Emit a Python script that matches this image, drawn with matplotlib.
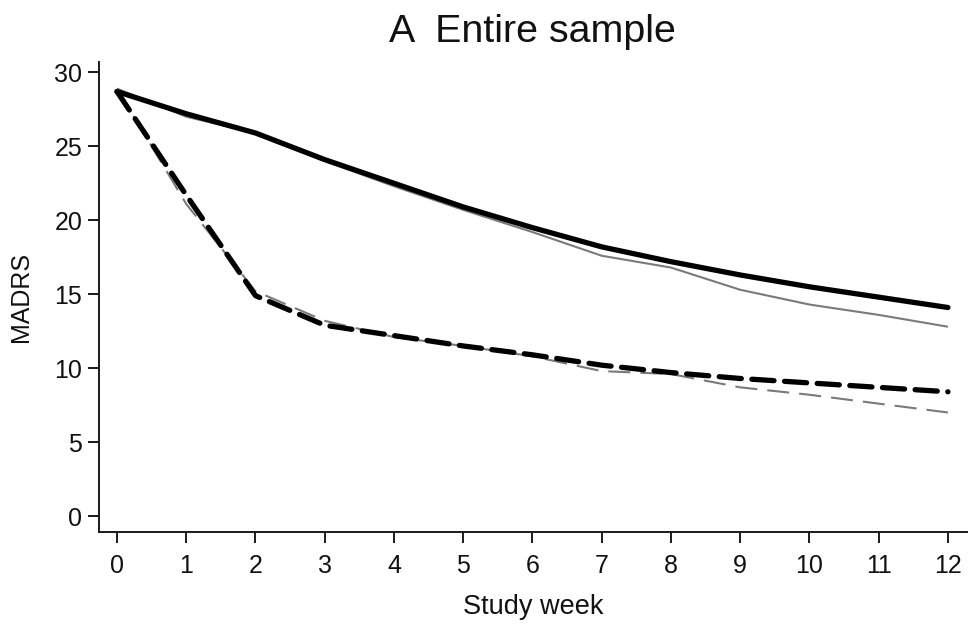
import matplotlib
matplotlib.use("Agg")
import matplotlib.pyplot as plt

plt.rcParams['font.family'] = ['Liberation Sans', 'DejaVu Sans']

weeks = [0, 1, 2, 3, 4, 5, 6, 7, 8, 9, 10, 11, 12]
solid_black = [28.7, 27.2, 25.9, 24.1, 22.5, 20.9, 19.5, 18.2, 17.2, 16.3, 15.5, 14.8, 14.1]
solid_gray = [28.9, 27.0, 25.9, 24.0, 22.3, 20.7, 19.2, 17.6, 16.8, 15.3, 14.3, 13.6, 12.8]
dashed_black = [28.7, 21.7, 14.9, 12.9, 12.2, 11.5, 10.9, 10.2, 9.7, 9.3, 9.0, 8.7, 8.4]
dashed_gray = [28.9, 21.1, 15.2, 13.2, 12.1, 11.5, 10.8, 9.8, 9.6, 8.7, 8.2, 7.6, 7.0]

xticks = list(range(0, 13))
yticks = [0, 5, 10, 15, 20, 25, 30]

fig = plt.figure(figsize=(9.68, 6.24), dpi=100)
ax = fig.add_axes([99/968, 92/624, 869/968, 470/624])

gray = '#7a7a7a'
ax.plot(weeks, solid_gray, color=gray, lw=1.5, solid_capstyle='butt')
ax.plot(weeks, dashed_gray, color=gray, lw=1.5, dashes=(10.6, 4.8))
ax.plot(weeks, solid_black, color='black', lw=3.8, solid_capstyle='round')
ax.plot(weeks, dashed_black, color='black', lw=3.8, dashes=(4.2, 2.0), dash_capstyle='round')

ax.set_xlim(-0.26, 12.29)
ax.set_ylim(-1.08, 30.7)
ax.set_xticks(xticks)
ax.set_yticks(yticks)
for s in ['top', 'right']:
    ax.spines[s].set_visible(False)
for s in ['left', 'bottom']:
    ax.spines[s].set_linewidth(1.4)
    ax.spines[s].set_color('#1a1a1a')
ax.tick_params(axis='x', length=8, width=1.4, pad=8, labelsize=18, colors='#1a1a1a')
ax.tick_params(axis='y', length=8, width=1.4, pad=4, labelsize=18, colors='#1a1a1a')
for lab in ax.get_xticklabels() + ax.get_yticklabels():
    lab.set_color('#111111')

ax.set_xlabel('Study week', fontsize=19.5, color='#111111')
ax.xaxis.set_label_coords(0.5, -0.132)
ax.set_ylabel('MADRS', fontsize=18, color='#111111')
ax.yaxis.set_label_coords(-0.076, 0.5)

fig.text(532/968, 1 - 42/624, 'A  Entire sample', ha='center', va='baseline',
         fontsize=28.4, color='#111111')

fig.savefig('out.png', dpi=100)
